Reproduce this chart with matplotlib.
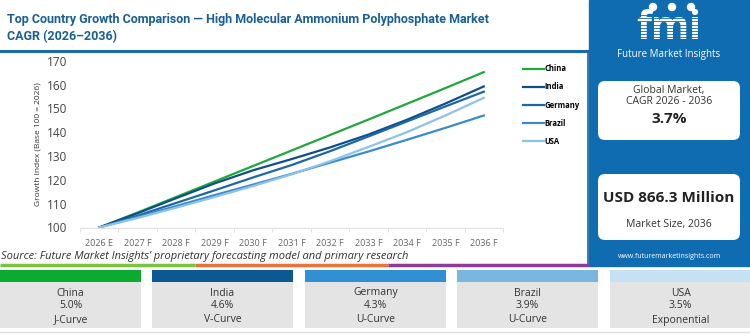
import numpy as np
import matplotlib.pyplot as plt
from matplotlib.patches import Rectangle, FancyBboxPatch

plt.rcParams["font.family"] = ["Open Sans", "DejaVu Sans"]

# ----------------------
# data
# ----------------------
years = ["2026 E", "2027 F", "2028 F", "2029 F", "2030 F", "2031 F",
         "2032 F", "2033 F", "2034 F", "2035 F", "2036 F"]
china = [100, 106.3, 112.8, 119.3, 125.8, 132.3, 138.8, 145.3, 151.9, 158.5, 165.2]
india = [100, 106.0, 112.3, 118.5, 124.0, 128.7, 133.6, 139.0, 145.2, 152.0, 159.2]
germany = [100, 105.0, 110.3, 115.6, 121.0, 126.2, 132.0, 138.2, 144.5, 150.8, 157.0]
brazil = [100, 104.4, 109.0, 113.6, 118.0, 122.5, 127.2, 131.9, 136.8, 141.8, 147.0]
usa = [100, 104.0, 108.3, 112.8, 117.4, 122.3, 127.8, 133.8, 140.0, 147.0, 154.4]

countries = ["China", "India", "Germany", "Brazil", "USA"]
cagr = ["5.0%", "4.6%", "4.3%", "3.9%", "3.5%"]
curve = ["J-Curve", "V-Curve", "U-Curve", "U-Curve", "Exponential"]
line_colors = ["#1fa83c", "#0e4f8a", "#1d67a6", "#3a8bcb", "#8ec2e8"]
card_colors = ["#0aab2e", "#0b5893", "#3190d4", "#7ab6e0", "#c5e1f3"]

global_cagr = "3.7%"
market_size = "USD 866.3 Million"

W, H = 750, 334
BLUE = "#0f6cb0"
TITLE = "#1a5f96"

fig = plt.figure(figsize=(W / 100, H / 100), dpi=100)

# background canvas in pixel coords
bg = fig.add_axes([0, 0, 1, 1])
bg.set_xlim(0, W)
bg.set_ylim(H, 0)
bg.axis("off")

# right blue panel
bg.add_patch(Rectangle((589, 0), W - 589, 266, color=BLUE, zorder=1))
# frame lines around chart area
bg.plot([0, 589], [51, 51], color="#1c68a8", lw=2.2, zorder=2)
bg.plot([588, 588], [51, 266], color="#1c68a8", lw=1.2, zorder=2)

# title
bg.text(7, 19, "Top Country Growth Comparison \u2014 High Molecular Ammonium Polyphosphate Market",
        fontsize=9, fontweight="bold", color=TITLE, va="center", ha="left", family="Roboto")
bg.text(7, 37, "CAGR (2026\u20132036)", fontsize=9, fontweight="bold",
        color=TITLE, va="center", ha="left", family="Roboto")

# logo
bg.text(669, 39, "fmi", fontsize=28, fontweight="bold", color="white",
        ha="center", va="baseline", zorder=3)
for yy in np.arange(15, 40, 3.2):
    bg.plot([610, 728], [yy, yy], color=BLUE, lw=0.6, zorder=4)
for cx in [653, 672, 691]:
    bg.add_patch(plt.Circle((cx, 7), 3.5, color="white", zorder=4))
bg.text(669, 55, "Future Market Insights", fontsize=7, color="white",
        ha="center", va="center", zorder=3)

# KPI boxes
for (y0, h) in [(81, 59), (174, 66)]:
    bg.add_patch(FancyBboxPatch((598, y0), 142, h, boxstyle="round,pad=0,rounding_size=7",
                                fc="white", ec="none", zorder=3))
bg.text(669, 90, "Global Market,", fontsize=7.5, color="#333333", ha="center", va="center", zorder=4)
bg.text(669, 102, "CAGR 2026 - 2036", fontsize=7.5, color="#333333", ha="center", va="center", zorder=4)
bg.text(669, 119, global_cagr, fontsize=11, fontweight="bold", color="#222222",
        ha="center", va="center", zorder=4)
bg.text(669, 198, market_size, fontsize=11, fontweight="bold", color="#222222",
        ha="center", va="center", zorder=4)
bg.text(669, 224, "Market Size, 2036", fontsize=7.5, color="#333333",
        ha="center", va="center", zorder=4)
bg.text(669, 257, "www.futuremarketinsights.com", fontsize=5, color="white",
        ha="center", va="center", zorder=4)

# source + coloured rule
bg.text(1, 257, "Source: Future Market Insights\u2019 proprietary forecasting model and primary research",
        fontsize=8, style="italic", color="#333333", ha="left", va="center")
for x0, x1, c in [(0, 195, "#7cc242"), (195, 388, "#e8743b"), (388, 589, "#8e3b96")]:
    bg.plot([x0, x1], [265, 265], color=c, lw=2.5, solid_capstyle="butt")

# bottom cards
card_x = [0, 152, 305, 457, 610]
card_w = 141
for i, name in enumerate(countries):
    x0 = card_x[i]
    bg.add_patch(Rectangle((x0, 270), card_w, 12, color=card_colors[i], lw=0))
    bg.add_patch(Rectangle((x0, 282), card_w, 46, color="#e4e4e4", lw=0))
    cx = x0 + card_w / 2
    bg.text(cx, 293, name, fontsize=7.5, color="#333333", ha="center", va="center")
    bg.text(cx, 306, cagr[i], fontsize=7.5, color="#333333", ha="center", va="center")
    bg.text(cx, 320, curve[i], fontsize=7.5, color="#333333", ha="center", va="center")
bg.plot([0, W], [332, 332], color="#dddddd", lw=1)

# ----------------------
# main chart
# ----------------------
ax = fig.add_axes([80 / W, 1 - 227.5 / H, (503 - 80) / W, (227.5 - 60.7) / H])
ax.patch.set_alpha(0)
x = np.arange(len(years))
series = [china, india, germany, brazil, usa]
for vals, c, name in zip(series, line_colors, countries):
    ax.plot(x, vals, color=c, lw=1.6, label=name)

ax.set_xlim(-0.5, len(years) - 0.5)
ax.set_ylim(100, 170)
ax.set_yticks(range(100, 171, 10))
ax.set_xticks(x)
ax.set_xticklabels(years)
ax.set_xticks(np.arange(-0.5, len(years), 1), minor=True)
ax.tick_params(axis="x", which="major", length=0, labelsize=6.5, labelcolor="#666666", pad=8)
ax.tick_params(axis="x", which="minor", length=3, color="#dddddd")
ax.tick_params(axis="y", length=0, labelsize=8.5, labelcolor="#444444", pad=9)
for s in ["top", "right", "left"]:
    ax.spines[s].set_visible(False)
ax.spines["bottom"].set_color("#e0e0e0")
ax.set_ylabel("Growth Index (Base 100 = 2026)", fontsize=6, color="#333333", labelpad=4)

leg = ax.legend(loc="upper left", bbox_to_anchor=(1.03, 1.02), frameon=False,
                handlelength=2.8, handletextpad=0.05, labelspacing=1.2,
                prop={"size": 5.5, "weight": "bold"})

fig.savefig("out.png", dpi=100)
